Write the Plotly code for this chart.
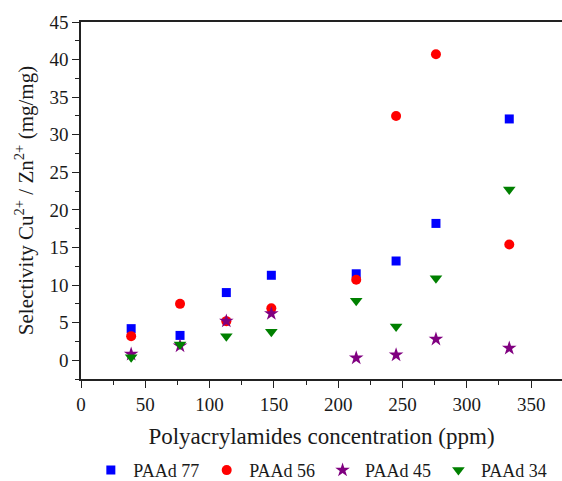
import plotly.graph_objects as go

conc = [39, 77, 113, 148, 214, 245, 276, 333]
paad77 = [4.2, 3.3, 9.0, 11.3, 11.5, 13.2, 18.2, 32.1]
paad56 = [3.2, 7.5, 5.2, 6.9, 10.7, 32.5, 40.7, 15.4]
paad45 = [0.8, 1.9, 5.2, 6.2, 0.3, 0.7, 2.8, 1.6]
paad34 = [0.4, 2.1, 3.2, 3.8, 7.9, 4.5, 10.9, 22.7]

series = [
    ("PAAd 77", paad77, "square", "#0000FF", 9),
    ("PAAd 56", paad56, "circle", "#FF0000", 10),
    ("PAAd 45", paad45, "star", "#800080", 11),
    ("PAAd 34", paad34, "triangle-down", "#008000", 11),
]

fig = go.Figure()
for name, vals, sym, col, sz in series:
    fig.add_trace(go.Scatter(x=conc, y=vals, mode="markers", name=name,
                             marker=dict(symbol=sym, color=col, size=sz, line=dict(width=0))))

font = "Liberation Serif, Times New Roman, serif"
txt = "#1a1a1a"
fig.update_layout(
    width=562, height=481,
    margin=dict(l=81, r=0, t=22, b=102, autoexpand=False),
    paper_bgcolor="white", plot_bgcolor="white",
    font=dict(family=font, color=txt),
    showlegend=True,
    legend=dict(orientation="h", x=0.57, xanchor="center", xref="container",
                y=0.022, yanchor="middle", yref="container",
                font=dict(size=18, family=font, color=txt), itemwidth=35, tracegroupgap=0),
)
fig.update_xaxes(
    range=[0, 374], tickmode="linear", tick0=0, dtick=50,
    ticks="outside", ticklen=7, tickwidth=1.2, tickcolor="#222",
    showline=True, linecolor="#222", linewidth=1.5, mirror=True,
    showgrid=False, zeroline=False, automargin=False,
    tickfont=dict(size=19, family=font, color=txt),
    minor=dict(ticks="outside", dtick=25, ticklen=4, tickcolor="#222", showgrid=False),
    title=dict(text="Polyacrylamides concentration (ppm)", font=dict(size=23, family=font, color=txt), standoff=14),
)
fig.update_yaxes(
    range=[-2.5, 45], tickmode="linear", tick0=0, dtick=5,
    ticks="outside", ticklen=7, tickwidth=1.2, tickcolor="#222",
    showline=True, linecolor="#222", linewidth=1.5, mirror=False,
    showgrid=False, zeroline=False, automargin=False,
    tickfont=dict(size=19, family=font, color=txt),
    minor=dict(ticks="outside", dtick=2.5, ticklen=4, tickcolor="#222", showgrid=False),
    title=dict(text="Selectivity Cu<sup>2+</sup> / Zn<sup>2+</sup> (mg/mg)", font=dict(size=21, family=font, color=txt), standoff=10),
)
fig.write_html("out.html")
